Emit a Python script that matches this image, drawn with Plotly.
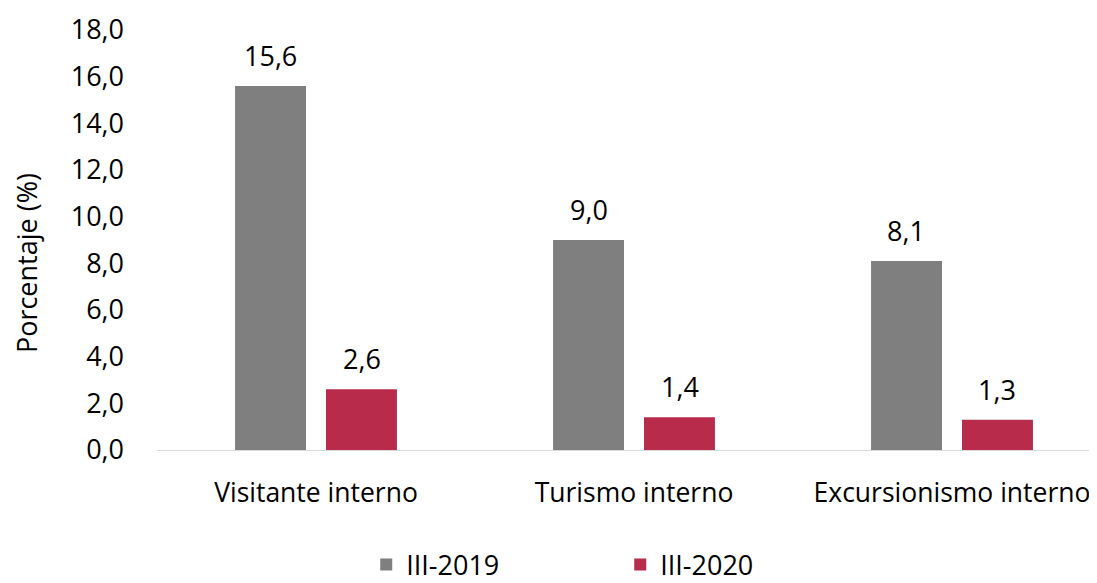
import plotly.graph_objects as go

categories = ["Visitante interno", "Turismo interno", "Excursionismo interno"]
series_names = ["III-2019", "III-2020"]
values_2019 = [15.6, 9.0, 8.1]
values_2020 = [2.6, 1.4, 1.3]
y_ticks = [0, 2, 4, 6, 8, 10, 12, 14, 16, 18]

colors = ["#7F7F7F", "#B82B4A"]
FONT = "Open Sans"
FS = 27

W, H = 1089, 575
L, T, B = 149, 22, 133
PW = W - L
PH = H - T - B

fig = go.Figure()
offsets = [-45.5, 45.5]
for name, vals, col, off in zip(series_names, [values_2019, values_2020], colors, offsets):
    fig.add_trace(go.Bar(
        x=categories, y=vals, name=name, marker=dict(color=col, line=dict(width=0)),
    ))
    for c, v in zip(categories, vals):
        fig.add_annotation(x=c, y=v, xref="x", yref="y", text=f"{v:.1f}".replace(".", ","),
                           showarrow=False, xshift=off, yanchor="bottom", yshift=10,
                           font=dict(family=FONT, size=FS, color="#000000"))

fig.add_annotation(text="Porcentaje (%)", textangle=-90, x=(18 - L) / PW, xref="paper",
                   xanchor="center", y=0.445, yref="paper", yanchor="middle", showarrow=False,
                   font=dict(family=FONT, size=FS, color="#000000"))

fig.update_layout(
    width=W, height=H,
    separators=",.",
    barmode="group", bargap=0.428, bargroupgap=0.22,
    plot_bgcolor="white", paper_bgcolor="white",
    margin=dict(l=L, r=0, t=T, b=B, autoexpand=False),
    font=dict(family=FONT, size=FS, color="#000000"),
    xaxis=dict(range=[-0.5, 2.456], showgrid=False, showline=True, linecolor="#D9D9D9",
               linewidth=1, ticks="", tickfont=dict(size=26.5, family=FONT), ticklabelstandoff=19,
               automargin=False),
    yaxis=dict(range=[0, 18], tickvals=y_ticks, tickformat=".1f", showgrid=False,
               zeroline=False, showline=False, ticks="", ticklabelstandoff=32,
               tickfont=dict(size=FS, family=FONT), automargin=False),
    legend=dict(orientation="h", x=0.5622, xanchor="center", y=-115 / PH, yanchor="middle",
                xref="container", yref="paper", entrywidth=209,
                font=dict(size=FS, family=FONT)),
    showlegend=True,
)

fig.write_html("out.html")
